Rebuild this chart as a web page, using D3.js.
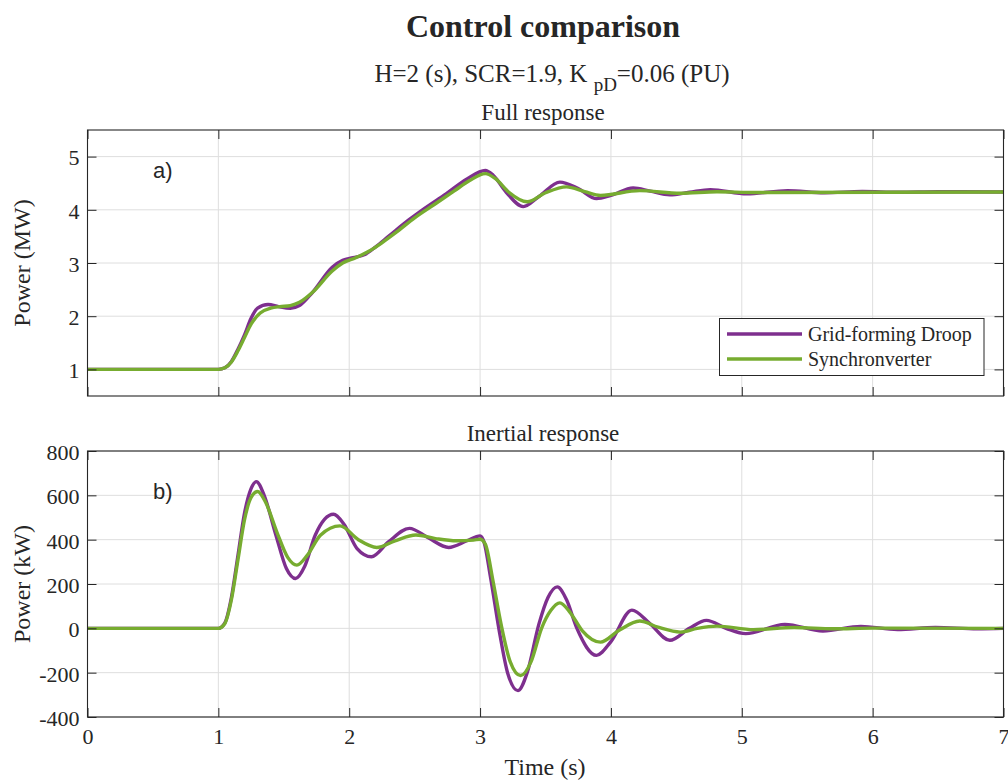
<!DOCTYPE html>
<html>
<head>
<meta charset="utf-8">
<script src="https://cdn.jsdelivr.net/npm/d3@7"></script>
<style>
  body { margin: 0; background: #fff; }
  svg text { font-family: "Liberation Serif", "Times New Roman", serif; fill: #262626; }
</style>
</head>
<body>
<svg id="chart" width="1008" height="781"></svg>
<script>
// ---- tick values ----
const timeTicks = [0, 1, 2, 3, 4, 5, 6, 7];
const fullTicks = [1, 2, 3, 4, 5];
const inertialTicks = [-400, -200, 0, 200, 400, 600, 800];

// ---- series ----
const seriesNames = ["Grid-forming Droop", "Synchronverter"];
const seriesColors = ["#7E2F8E", "#77AC30"];

// Full response, grid-forming droop (time s, power MW)
const droopFullT = [0, 1.0, 1.05, 1.1, 1.15, 1.2, 1.25, 1.3, 1.38, 1.46, 1.55, 1.62, 1.72, 1.87, 1.95, 2.03, 2.12, 2.2, 2.3, 2.45, 2.56, 2.74, 2.9, 3.04, 3.1, 3.2, 3.33, 3.45, 3.61, 3.75, 3.89, 4.0, 4.17, 4.3, 4.45, 4.6, 4.76, 5.04, 5.35, 5.63, 5.92, 6.2, 6.5, 7.0];
const droopFullP = [1, 1, 1.03, 1.15, 1.38, 1.65, 1.96, 2.15, 2.22, 2.18, 2.15, 2.2, 2.45, 2.92, 3.05, 3.1, 3.16, 3.3, 3.5, 3.8, 4.0, 4.3, 4.58, 4.74, 4.65, 4.33, 4.06, 4.25, 4.52, 4.4, 4.21, 4.27, 4.41, 4.35, 4.28, 4.33, 4.38, 4.30, 4.36, 4.32, 4.345, 4.33, 4.34, 4.335];

// Full response, synchronverter (time s, power MW)
const syncFullT = [0, 1.0, 1.05, 1.1, 1.15, 1.2, 1.25, 1.32, 1.4, 1.47, 1.55, 1.62, 1.72, 1.87, 1.95, 2.05, 2.15, 2.25, 2.35, 2.5, 2.65, 2.8, 2.92, 3.04, 3.12, 3.22, 3.36, 3.5, 3.66, 3.8, 3.92, 4.22, 4.53, 4.81, 5.1, 7.0];
const syncFullP = [1, 1, 1.03, 1.14, 1.35, 1.6, 1.85, 2.06, 2.15, 2.18, 2.2, 2.26, 2.45, 2.85, 3.0, 3.1, 3.22, 3.38, 3.56, 3.85, 4.1, 4.35, 4.55, 4.68, 4.58, 4.33, 4.15, 4.32, 4.43, 4.34, 4.27, 4.36, 4.31, 4.34, 4.325, 4.335];

// Inertial response, grid-forming droop (time s, power kW)
const droopInT = [0, 1.0, 1.05, 1.1, 1.15, 1.2, 1.25, 1.29, 1.35, 1.44, 1.52, 1.59, 1.66, 1.74, 1.88, 1.96, 2.06, 2.17, 2.3, 2.46, 2.6, 2.76, 2.9, 3.0, 3.03, 3.08, 3.15, 3.21, 3.29, 3.36, 3.45, 3.52, 3.59, 3.66, 3.74, 3.89, 4.0, 4.16, 4.3, 4.45, 4.6, 4.73, 4.88, 5.03, 5.33, 5.62, 5.91, 6.19, 6.48, 6.8, 7.0];
const droopInP = [0, 0, 25, 140, 330, 520, 630, 662, 600, 420, 270, 225, 280, 420, 515, 470, 360, 323, 390, 451, 410, 365, 395, 417, 390, 230, -23, -200, -281, -200, 20, 140, 187, 130, 0, -122, -60, 82, 20, -54, 0, 36, 0, -24, 18, -12, 9, -5, 4, -2, 0];

// Inertial response, synchronverter (time s, power kW)
const syncInT = [0, 1.0, 1.05, 1.1, 1.15, 1.2, 1.25, 1.3, 1.36, 1.45, 1.53, 1.6, 1.68, 1.78, 1.93, 2.07, 2.21, 2.35, 2.51, 2.66, 2.82, 2.95, 3.0, 3.04, 3.1, 3.16, 3.23, 3.31, 3.39, 3.47, 3.54, 3.61, 3.69, 3.78, 3.92, 4.06, 4.22, 4.36, 4.53, 4.66, 4.81, 5.09, 5.4, 5.7, 6.0, 7.0];
const syncInP = [0, 0, 22, 130, 310, 490, 590, 617, 570, 430, 320, 285, 330, 420, 462, 400, 365, 395, 421, 405, 395, 398, 402, 380, 210, 20, -150, -213, -150, 0, 80, 115, 70, -10, -62, -10, 33, 5, -17, 0, 10, -6, 4, -2, 1, 0];

// ---- layout ----
const left = 87.5, right = 1003.5;
const svg = d3.select("#chart");
const axisColor = "#262626";
const gridColor = "#dedede";
const plainNum = d => String(d);   // keeps a plain hyphen for negatives

const x = d3.scaleLinear().domain([0, 7]).range([left, right]);

const panels = [
  {
    top: 130, bottom: 396, domain: [0.5, 5.5], ticks: fullTicks,
    title: "Full response", yLabel: "Power (MW)", tag: "a)",
    showX: false,
    series: [[droopFullT, droopFullP], [syncFullT, syncFullP]],
    legend: true
  },
  {
    top: 451, bottom: 717, domain: [-400, 800], ticks: inertialTicks,
    title: "Inertial response", yLabel: "Power (kW)", tag: "b)",
    showX: true,
    series: [[droopInT, droopInP], [syncInT, syncInP]],
    legend: false
  }
];

panels.forEach((p, i) => {
  const y = d3.scaleLinear().domain(p.domain).range([p.bottom, p.top]);
  const g = svg.append("g");

  // grid
  g.append("g").selectAll("line").data(timeTicks).join("line")
    .attr("x1", d => x(d)).attr("x2", d => x(d))
    .attr("y1", p.top).attr("y2", p.bottom)
    .attr("stroke", gridColor).attr("stroke-width", 1);
  g.append("g").selectAll("line").data(p.ticks).join("line")
    .attr("x1", left).attr("x2", right)
    .attr("y1", d => y(d)).attr("y2", d => y(d))
    .attr("stroke", gridColor).attr("stroke-width", 1);

  // data lines
  const clipId = "clip" + i;
  svg.append("clipPath").attr("id", clipId).append("rect")
    .attr("x", left).attr("y", p.top).attr("width", right - left).attr("height", p.bottom - p.top);
  const line = d3.line().x(d => x(d[0])).y(d => y(d[1])).curve(d3.curveMonotoneX);
  p.series.forEach(([ts, vs], k) => {
    g.append("path")
      .attr("clip-path", `url(#${clipId})`)
      .attr("d", line(ts.map((t, j) => [t, vs[j]])))
      .attr("fill", "none")
      .attr("stroke", seriesColors[k])
      .attr("stroke-width", 3.4)
      .attr("stroke-linejoin", "round");
  });

  // axes with inward ticks on all four sides
  const styleAxis = sel => {
    sel.select(".domain").remove();
    sel.selectAll(".tick line").attr("stroke", axisColor);
    sel.selectAll(".tick text")
      .style("font-family", '"Liberation Serif", "Times New Roman", serif')
      .style("font-size", "22px").attr("fill", axisColor);
  };
  g.append("g").attr("transform", `translate(${left},0)`)
    .call(d3.axisLeft(y).tickValues(p.ticks).tickSize(-9).tickPadding(8).tickFormat(plainNum))
    .call(styleAxis)
    .selectAll(".tick text").attr("dy", "0.38em");
  g.append("g").attr("transform", `translate(${right},0)`)
    .call(d3.axisRight(y).tickValues(p.ticks).tickSize(-9).tickFormat(""))
    .call(styleAxis);
  g.append("g").attr("transform", `translate(0,${p.top})`)
    .call(d3.axisTop(x).tickValues(timeTicks).tickSize(-9).tickFormat(""))
    .call(styleAxis);
  const bx = g.append("g").attr("transform", `translate(0,${p.bottom})`)
    .call(d3.axisBottom(x).tickValues(timeTicks).tickSize(-9).tickPadding(11)
      .tickFormat(p.showX ? plainNum : ""))
    .call(styleAxis);
  bx.selectAll(".tick text").attr("dy", "0.71em");

  // box
  g.append("rect").attr("x", left).attr("y", p.top)
    .attr("width", right - left).attr("height", p.bottom - p.top)
    .attr("fill", "none").attr("stroke", axisColor).attr("stroke-width", 1.1);

  // subplot title
  svg.append("text").attr("x", 543).attr("y", p.top - 10)
    .attr("text-anchor", "middle").style("font-size", "23px").text(p.title);

  // y label
  svg.append("text")
    .attr("transform", `translate(30,${(p.top + p.bottom) / 2}) rotate(-90)`)
    .attr("text-anchor", "middle").style("font-size", "24px").text(p.yLabel);

  // panel tag
  svg.append("text").attr("x", 153).attr("y", p.top + 48)
    .style("font-family", '"Liberation Sans", Arial, sans-serif')
    .style("font-size", "22px").attr("fill", "#000").text(p.tag);

  // legend
  if (p.legend) {
    const lg = svg.append("g");
    lg.append("rect").attr("x", 719.5).attr("y", 318.5).attr("width", 264.5).attr("height", 57)
      .attr("fill", "#fff").attr("stroke", axisColor).attr("stroke-width", 1);
    seriesNames.forEach((name, k) => {
      const ly = 334 + k * 25;
      lg.append("line").attr("x1", 727).attr("x2", 802).attr("y1", ly).attr("y2", ly)
        .attr("stroke", seriesColors[k]).attr("stroke-width", 3.4);
      lg.append("text").attr("x", 808).attr("y", ly + 7)
        .style("font-size", "20px").attr("fill", "#000").text(name);
    });
  }
});

// x label
svg.append("text").attr("x", 545).attr("y", 775).attr("text-anchor", "middle")
  .style("font-size", "24px").text("Time (s)");

// figure title
svg.append("text").attr("x", 543).attr("y", 37).attr("text-anchor", "middle")
  .style("font-size", "32px").style("font-weight", "bold").text("Control comparison");

// subtitle with subscript
const sub = svg.append("text").attr("x", 552).attr("y", 82).attr("text-anchor", "middle")
  .style("font-size", "25px");
sub.append("tspan").text("H=2 (s), SCR=1.9, K ");
sub.append("tspan").attr("dy", 9).style("font-size", "19px").text("pD");
sub.append("tspan").attr("dy", -9).text("=0.06 (PU)");
</script>
</body>
</html>
